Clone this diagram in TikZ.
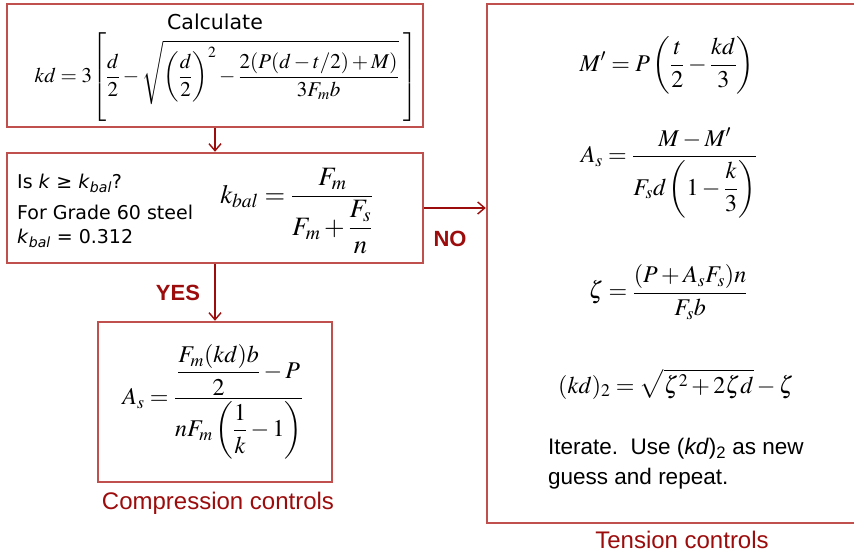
\documentclass[tikz,border=0pt]{standalone}
\usepackage{amsmath}
\usepackage{mathptmx}
\usepackage[no-math]{fontspec}
\newfontfamily\tahomafont{DejaVu Sans}
\newfontfamily\arialfont{Liberation Sans}
\usetikzlibrary{arrows.meta}
\definecolor{boxred}{HTML}{C0504D}
\definecolor{flowred}{HTML}{9C0C0C}

\begin{document}
\begin{tikzpicture}[x=1pt,y=-1pt,
  box/.style={draw=boxred,line width=2.5pt,inner sep=0pt},
  flow/.style={draw=flowred,line width=1.4pt,-{Straight Barb[length=7pt,width=12pt]}},
  tag/.style={text=flowred,font=\arialfont\fontsize{24}{28}\selectfont},
  answer/.style={text=flowred,font=\arialfont\bfseries\fontsize{22}{26}\selectfont},
  note/.style={font=\tahomafont\fontsize{19}{22}\selectfont,inner sep=0pt,anchor=west},
  eq/.style={font=\fontsize{24}{28}\selectfont}]
\useasboundingbox (0,0) rectangle (854,552);
% boxes
\node[box,minimum width=416pt,minimum height=123pt] (calc) at (215,65.5) {};
\node[box,minimum width=416pt,minimum height=110pt] (check) at (215,208) {};
\node[box,minimum width=234pt,minimum height=160pt] (comp) at (215,402) {};
\node[box,minimum width=371pt,minimum height=519pt] (tens) at (672.5,263.5) {};
% first step
\node[font=\tahomafont\fontsize{20.5}{24}\selectfont] (calctitle) at (215,22) {Calculate};
\node[eq,font=\fontsize{21}{25}\selectfont] (kdeq) at (226,77) {$\displaystyle kd=3\!\left[\vphantom{\dfrac{\dfrac{d}{2}}{\dfrac{d}{2}}}\frac{d}{2}-\sqrt{\left(\frac{d}{2}\right)^{2}-\frac{2(P(d-t/2)+M)}{3F_{m}b}}\;\right]$};
% check
\node[note] (isk) at (17,183) {Is \textit{k} ≥ \textit{k}\textsubscript{\textit{bal}}?};
\node[note] (grade) at (17,212) {For Grade 60 steel};
\node[note] (kbalval) at (17,238) {\textit{k}\textsubscript{\textit{bal}} = 0.312};
\node[eq,font=\fontsize{26.5}{30}\selectfont] (kbaleq) at (297,211) {$\displaystyle k_{bal}=\frac{F_m}{F_m+\dfrac{F_s}{n}}$};
% compression
\node[eq] (compeq) at (213,402) {$\displaystyle A_s=\frac{\dfrac{F_m(kd)b}{2}-P}{nF_m\left(\dfrac{1}{k}-1\right)}$};
\node[tag] (comptag) at (218,503) {Compression controls};
% tension
\node[eq] (mpeq) at (667,65) {$\displaystyle M'=P\left(\frac{t}{2}-\frac{kd}{3}\right)$};
\node[eq] (aseq) at (669,173) {$\displaystyle A_s=\frac{M-M'}{F_sd\left(1-\dfrac{k}{3}\right)}$};
\node[eq] (zetaeq) at (668,292) {$\displaystyle \zeta=\frac{(P+A_sF_s)n}{F_sb}$};
\node[eq] (kdtwoeq) at (676,384) {$\displaystyle (kd)_2=\sqrt{\zeta^2+2\zeta d}-\zeta$};
\node[font=\arialfont\fontsize{22.5}{30}\selectfont,anchor=west,align=left,inner sep=0pt] (iter) at (548,464) {Iterate.\ \ Use (\textit{kd})\textsubscript{2} as new\\guess and repeat.};
\node[tag] (tenstag) at (682,540) {Tension controls};
% connectors
\draw[flow] (calc.south) -- (check.north);
\draw[flow] (check.east) -- (check.east -| tens.west);
\draw[flow] (check.south) -- (comp.north);
\node[answer] (yes) at (178,293) {YES};
\node[answer] (no) at (450,239) {NO};
\end{tikzpicture}
\end{document}
